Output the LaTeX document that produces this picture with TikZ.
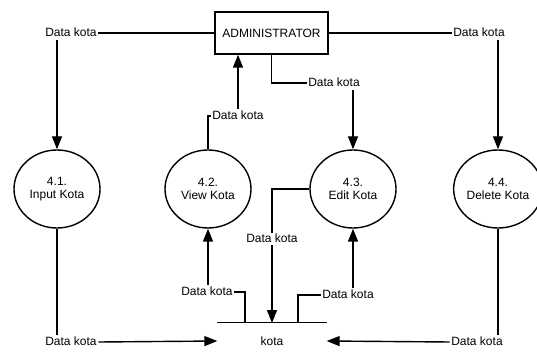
\documentclass[tikz,border=0pt]{standalone}
\usepackage{fontspec}
\setmainfont{Liberation Sans}
\usetikzlibrary{shapes.geometric,arrows.meta}
\begin{document}
\begin{tikzpicture}[x=1pt,y=-1pt,
  font=\fontsize{12}{13}\selectfont,
  line width=1.4pt,
  conn/.style={draw=black},
  arr/.style={draw=black,-{Triangle[length=13pt,width=10pt]}},
  proc/.style={ellipse,draw=black,minimum width=86pt,minimum height=78pt,inner sep=0pt,align=center},
  ent/.style={rectangle,draw=black,minimum width=113pt,minimum height=42pt,inner sep=0pt},
  lbl/.style={fill=white,inner sep=1pt,text height=8.5pt,text depth=2pt},
  storebox/.style={minimum width=108pt,minimum height=36pt,inner sep=0pt}]
\useasboundingbox (0,0) rectangle (537,352);
\fill[white] (0,0) rectangle (537,352);

% nodes
\node[ent] (admin) at (271.5,33) {ADMINISTRATOR};
\node[proc] (p1) at (57,189) {4.1.\\Input Kota};
\node[proc] (p2) at (208,189) {4.2.\\View Kota};
\node[proc] (p3) at (353,189) {4.3.\\Edit Kota};
\node[proc] (p4) at (498,189) {4.4.\\Delete Kota};
\node[storebox] (store) at (272,341) {kota};
\draw[conn] (store.north west) -- (store.north east);
\coordinate (s2) at (245,323);
\coordinate (smid) at (272,323);
\coordinate (s3) at (298,323);

% labels
\node[lbl] (l1) at (71,33) {Data kota};
\node[lbl] (l2) at (479,33) {Data kota};
\node[lbl] (l3) at (334,83) {Data kota};
\node[lbl] (l4) at (238,116) {Data kota};
\node[lbl] (l6) at (207,292) {Data kota};
\node[lbl] (l7) at (348,295) {Data kota};
\node[lbl] (l8) at (71,342) {Data kota};
\node[lbl] (l9) at (477,342) {Data kota};

% connectors
\draw[conn] (admin.west) -- (l1.east);
\draw[arr] (p1.north |- l1.south) -- (p1.north);
\draw[conn] (admin.east) -- (l2.west);
\draw[arr] (p4.north |- l2.south) -- (p4.north);
\draw[conn] (admin.south) |- (l3.west);
\draw[arr] (p3.north |- l3.south) -- (p3.north);
\draw[conn] (p2.north) |- (l4.west);
\draw[arr] (l4.north) -- (l4.north |- admin.south);
\draw[arr] (p3.west) -| (smid);
\node[lbl] (l5) at (272,239) {Data kota};
\draw[conn] (s2) |- (l6.east);
\draw[arr] (p2.south |- l6.north) -- (p2.south);
\draw[conn] (s3) |- (l7.west);
\draw[arr] (p3.south |- l7.north) -- (p3.south);
\draw[conn] (p1.south) -- (p1.south |- l8.north);
\draw[arr] (l8.east) -- (store.west);
\draw[conn] (p4.south) -- (p4.south |- l9.north);
\draw[arr] (l9.west) -- (store.east);
\end{tikzpicture}
\end{document}
